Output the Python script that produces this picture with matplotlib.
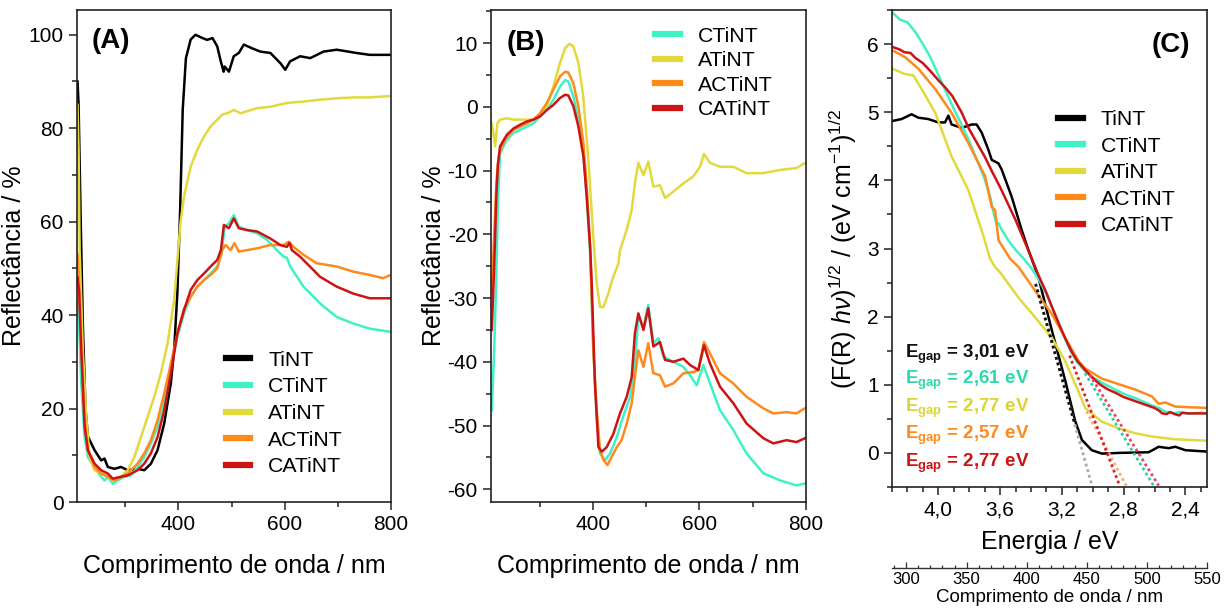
import matplotlib
matplotlib.use("Agg")
import matplotlib.pyplot as plt
import numpy as np
from matplotlib.ticker import MultipleLocator, FuncFormatter

plt.rcParams['font.family'] = 'Liberation Sans'
plt.rcParams['mathtext.fontset'] = 'custom'
plt.rcParams['mathtext.rm'] = 'Liberation Sans'
plt.rcParams['mathtext.it'] = 'Liberation Sans:italic'
plt.rcParams['mathtext.bf'] = 'Liberation Sans:bold'
plt.rcParams['axes.unicode_minus'] = False

names = ["TiNT", "CTiNT", "ATiNT", "ACTiNT", "CATiNT"]
colors = ["#000000", "#3FF2C6", "#E2DA3C", "#FF8A1C", "#CC1414"]

# ---- panel A: reflectance ----
a_tint_wl = [210, 212, 216, 220, 225, 229.5, 242, 254.5, 260.7, 267, 279.5, 292, 304.4, 323.1, 335.6, 348.1,
             360.6, 373.1, 385.6, 391.8, 398, 403, 408, 414, 423, 432, 445, 454, 464, 473, 479, 485, 487,
             495, 504, 513.5, 523, 538.5, 554, 573, 592, 601, 610, 629, 648, 673, 698, 735, 760, 800]
a_tint_r = [90, 85, 60, 38, 20, 14, 11.1, 8.9, 9.3, 7.5, 7.1, 7.5, 6.8, 7.1, 6.8, 8.2,
            11.1, 16.8, 25.4, 32.5, 45, 62, 84, 95, 99, 100, 99.3, 98.9, 99.3, 97.5, 94.6, 92.1, 93.2,
            92.1, 95.4, 96.1, 97.9, 97.1, 96.4, 96.1, 93.9, 92.5, 94.3, 95.4, 95.0, 96.4, 96.8, 96.1, 95.7, 95.7]
a_ctint_wl = [210, 212, 217, 223.3, 229.5, 242, 254.5, 260.7, 267, 276.3, 285.6, 298.2, 310.7, 323, 335.6,
              348, 360.6, 373, 385.6, 398, 410.5, 423, 435.5, 448, 460.5, 473, 481, 487, 494.8, 504.2,
              513.5, 529, 548, 566.6, 585.3, 597.8, 604, 610.3, 635.3, 666.5, 697.7, 729, 760, 800]
a_ctint_r = [43, 41, 25.4, 13.9, 9.6, 7.5, 5.4, 4.6, 5.4, 3.9, 4.6, 5.4, 5.7, 7.5, 9.6,
             12.5, 16.1, 21.8, 28.9, 35.4, 40.4, 43.9, 46.1, 47.5, 48.9, 50.4, 53, 59, 59.6, 61.4,
             58.9, 58.2, 57.5, 56.1, 53.9, 52.5, 52.3, 50.4, 46.1, 42.5, 39.6, 38.2, 37.1, 36.4]
a_atint_wl = [210, 212, 214, 220, 226.4, 232.6, 242, 254.5, 267, 279.5, 292, 304.4, 317, 329.4, 341.9,
              354.4, 366.8, 379.3, 391.8, 398, 404, 410.5, 423, 435.5, 448, 460.5, 473, 482.3, 491.7,
              504.2, 516.7, 548, 572.8, 604, 635.3, 666.5, 697.7, 729, 760, 800]
a_atint_r = [85, 75, 54, 32.5, 18.2, 9.6, 6.8, 6.1, 5.4, 4.6, 5.4, 6.8, 9.6, 13.9, 18.2,
             22.5, 27.5, 33.9, 43.2, 51.8, 60, 65.4, 71.8, 75.4, 78.2, 80.4, 81.8, 82.9, 83.2,
             83.9, 83.2, 84.3, 84.6, 85.4, 85.7, 86.1, 86.4, 86.6, 86.6, 86.9]
a_actint_wl = [210, 213, 217, 223.3, 229.5, 242, 254.5, 267, 279.5, 292, 304.4, 323, 335.6, 348, 360.6,
               373, 385.6, 398, 410.5, 423, 435.5, 448, 460.5, 473, 482.3, 488.5, 498, 505.4, 513.5,
               529, 548, 572.8, 597.8, 607.2, 616.5, 635.3, 660, 697.7, 729, 760, 785, 800]
a_actint_r = [53, 47, 33.9, 18.2, 11.1, 7.5, 6.1, 5.4, 4.6, 5.4, 6.1, 8.2, 10.4, 13.2, 17.5,
              23.2, 29.6, 36.1, 41.4, 43.9, 46.1, 47.5, 48.6, 50.0, 53.9, 55.0, 53.9, 55.4, 53.6,
              53.9, 54.3, 55.0, 55.0, 55.7, 54.6, 52.9, 51.1, 50.4, 49.3, 48.6, 47.9, 48.6]
a_catint_wl = [210, 213, 217, 223.3, 229.5, 242, 254.5, 267, 276.3, 292, 304.4, 323, 335.6, 348, 360.6,
               373, 385.6, 398, 410.5, 423, 435.5, 448, 460.5, 473, 480, 485.4, 494.8, 504.2, 513.5,
               529, 548, 572.8, 591.6, 604, 609, 613.4, 629, 666.5, 697.7, 729, 760, 800]
a_catint_r = [48, 45, 32.5, 16.1, 11.1, 8.2, 6.8, 6.1, 5.0, 5.4, 5.7, 6.8, 8.2, 10.4, 13.9,
              19.6, 27.5, 36.1, 41.1, 45.4, 47.5, 48.9, 50.4, 51.8, 54, 59.3, 58.6, 60.7, 58.6,
              58.2, 57.9, 56.4, 55.0, 54.6, 55.5, 53.9, 52.5, 48.2, 46.1, 44.6, 43.6, 43.6]

# ---- panel B: reflectance difference ----
b_ctint_wl = [210.5, 215, 218.6, 222, 226, 238.6, 251, 263.6, 276, 288.6, 301, 313.6, 326, 338.6, 348, 354,
              363.6, 373, 382.4, 388.6, 395, 401, 407.4, 413.6, 423, 432.4, 445, 457, 470, 479, 485.5, 495,
              504, 513.6, 523, 532.4, 551, 570, 582.4, 595, 607.4, 620, 638.6, 663.6, 688.6, 720, 751, 782, 798]
b_ctint_r = [-47.6, -38.2, -27.7, -15, -7.3, -5.2, -4.1, -3.6, -3.1, -2.6, -1.5, -0.5, 1.1, 3.2, 4.2, 4.0,
             1.6, -2.0, -7.3, -14.1, -23, -38.2, -48.6, -54.4, -55.4, -54.4, -51.8, -48.6, -45.5, -40.3, -32.9, -34.5,
             -31.1, -37.1, -36.3, -39.2, -40.0, -40.8, -42.1, -43.7, -40.5, -43.4, -47.6, -50.7, -54.4, -57.5, -58.6,
             -59.4, -59.1]
b_atint_wl = [210.5, 213.6, 216.7, 221, 226, 238.6, 251, 270, 288.6, 301, 313.6, 326, 338.6, 348, 356, 363.6,
              373, 382, 391.7, 401, 407.4, 413.6, 420, 429, 438.6, 448, 451, 463.6, 473, 479, 485.5, 495,
              504.2, 513.6, 526, 535.5, 551, 570, 588.6, 601, 608.6, 620, 638.6, 663.6, 688.6, 720, 751, 782, 798]
b_atint_r = [-2.6, -4.1, -6.2, -2.6, -2.0, -1.8, -2.0, -2.0, -2.0, -1.5, 0.05, 3.2, 6.9, 9.2, 9.9, 9.5,
             6.9, 1.7, -8.3, -20.5, -27.7, -31.4, -31.4, -29.3, -26.6, -24.6, -22.5, -19.3, -16.2, -12.0, -8.8, -10.7,
             -8.6, -12.5, -12.3, -14.3, -13.3, -12.0, -10.9, -9.4, -7.4, -8.8, -9.4, -9.4, -10.4, -10.4, -9.9,
             -9.6, -8.8]
b_actint_wl = [210.5, 215, 219, 222, 226, 238.6, 251, 263.6, 276, 288.6, 301, 313.6, 326, 338.6, 348, 354,
               363.6, 373, 382.4, 388.6, 395, 401, 407.4, 413.6, 420, 427.4, 435.5, 445, 454, 463.6, 473, 479,
               485.5, 495, 504, 513.6, 526, 535.5, 551, 570, 588.6, 598, 608.6, 620, 638.6, 663.6, 688.6, 720,
               738.6, 763.6, 782, 798]
b_actint_r = [-29, -20, -12, -9, -6.8, -4.7, -3.6, -3.1, -2.6, -2.0, -1.0, 0.6, 2.7, 4.8, 5.5, 5.4,
              3.7, 0.05, -5.7, -12.5, -22, -38.2, -47.6, -53.9, -55.4, -56.2, -54.9, -53.4, -52.3, -49.7, -46.5, -42.4,
              -38.2, -40.8, -37.1, -41.8, -42.1, -43.9, -43.4, -41.8, -41.6, -41.3, -36.9, -38.7, -41.8, -43.4, -45.5,
              -47.3, -48.1, -47.9, -48.1, -47.3]
b_catint_wl = [210.5, 215, 219, 222, 226, 238.6, 251, 263.6, 276, 288.6, 301, 313.6, 326, 338.6, 348, 354,
               363.6, 373, 382.4, 388.6, 395, 398, 404, 410.5, 416.8, 426, 438.6, 451, 463.6, 473, 479, 485.5,
               495, 504, 513.6, 526, 535.5, 551, 570, 582.4, 598, 608.6, 620, 638.6, 663.6, 688.6, 720, 738.6,
               763.6, 782, 798]
b_catint_r = [-35, -25, -14, -9, -6.2, -4.4, -3.4, -2.8, -2.3, -2.0, -1.5, -0.5, 0.3, 1.4, 1.9, 1.8,
              0.1, -3.1, -7.8, -14.1, -22, -27.7, -43.4, -53.4, -54.1, -53.4, -51.3, -48.1, -45.5, -42.4, -35.5, -32.4,
              -35.0, -31.6, -37.6, -36.9, -39.7, -40.0, -39.5, -40.5, -41.3, -37.4, -40.3, -43.9, -46.5, -49.7, -52.0,
              -52.8, -52.3, -52.6, -52.0]

# ---- panel C: Tauc plot ----
c_tint_e = [4.30, 4.238, 4.173, 4.13, 4.065, 4.0, 3.957, 3.935, 3.914, 3.849, 3.784, 3.752, 3.719, 3.676, 3.654,
            3.611, 3.59, 3.525, 3.46, 3.42, 3.352, 3.265, 3.179, 3.114, 3.07, 3.006, 2.941, 2.833, 2.638, 2.573,
            2.508, 2.465, 2.4, 2.26]
c_tint_f = [4.87, 4.90, 4.97, 4.92, 4.90, 4.85, 4.85, 4.95, 4.82, 4.77, 4.82, 4.82, 4.7, 4.45, 4.3,
            4.25, 4.16, 3.76, 3.27, 3.0, 2.58, 1.8, 1.07, 0.47, 0.19, 0.04, -0.01, 0.0, 0.01, 0.09,
            0.07, 0.09, 0.04, 0.02]
c_ctint_e = [4.30, 4.25, 4.20, 4.15, 4.10, 4.05, 4.00, 3.95, 3.90, 3.85, 3.80, 3.75, 3.70, 3.66, 3.64, 3.625,
             3.61, 3.59, 3.55, 3.50, 3.45, 3.40, 3.35, 3.30, 3.26, 3.22, 3.18, 3.14, 3.10, 3.05, 3.00, 2.94,
             2.88, 2.83, 2.78, 2.72, 2.66, 2.62, 2.57, 2.55, 2.52, 2.50, 2.47, 2.44, 2.40, 2.35, 2.30, 2.26]
c_ctint_f = [6.47, 6.36, 6.32, 6.18, 6.0, 5.8, 5.55, 5.3, 5.05, 4.82, 4.57, 4.3, 4.02, 3.72, 3.5, 3.38,
             3.37, 3.28, 3.13, 2.98, 2.86, 2.72, 2.55, 2.33, 2.12, 1.9, 1.68, 1.48, 1.33, 1.2, 1.11, 1.03,
             0.96, 0.9, 0.85, 0.8, 0.74, 0.7, 0.66, 0.63, 0.6, 0.6, 0.58, 0.6, 0.58, 0.58, 0.59, 0.58]
c_atint_e = [4.30, 4.216, 4.162, 4.108, 4.02, 3.914, 3.806, 3.71, 3.665, 3.633, 3.60, 3.481, 3.373, 3.265, 3.179,
             3.092, 3.049, 2.941, 2.833, 2.725, 2.617, 2.465, 2.26]
c_atint_f = [5.64, 5.56, 5.54, 5.34, 4.99, 4.35, 3.86, 3.2, 2.85, 2.73, 2.65, 2.28, 1.99, 1.69, 1.35,
             0.90, 0.66, 0.46, 0.36, 0.29, 0.24, 0.2, 0.18]
c_actint_e = [4.30, 4.216, 4.13, 4.02, 3.914, 3.806, 3.697, 3.654, 3.633, 3.61, 3.535, 3.481, 3.373, 3.265, 3.179,
              3.092, 3.049, 2.941, 2.833, 2.725, 2.617, 2.573, 2.53, 2.465, 2.26]
c_actint_f = [5.91, 5.81, 5.64, 5.34, 4.99, 4.55, 4.06, 3.61, 3.565, 3.12, 2.85, 2.73, 2.38, 2.04, 1.69,
              1.35, 1.24, 1.09, 1.01, 0.93, 0.83, 0.72, 0.74, 0.68, 0.66]
c_catint_e = [4.30, 4.25, 4.22, 4.18, 4.15, 4.10, 4.05, 4.00, 3.95, 3.91, 3.85, 3.80, 3.75, 3.70, 3.65, 3.60,
              3.55, 3.50, 3.45, 3.40, 3.35, 3.30, 3.26, 3.22, 3.18, 3.14, 3.10, 3.05, 3.00, 2.95, 2.90, 2.85,
              2.80, 2.75, 2.70, 2.65, 2.60, 2.57, 2.55, 2.52, 2.50, 2.47, 2.44, 2.42, 2.38, 2.30, 2.26]
c_catint_f = [5.96, 5.92, 5.88, 5.87, 5.8, 5.72, 5.6, 5.47, 5.35, 5.24, 5.0, 4.75, 4.55, 4.35, 4.12, 3.9,
              3.66, 3.42, 3.15, 2.88, 2.6, 2.35, 2.12, 1.9, 1.69, 1.5, 1.35, 1.22, 1.1, 1.0, 0.93, 0.88,
              0.82, 0.78, 0.74, 0.7, 0.66, 0.62, 0.58, 0.57, 0.6, 0.57, 0.55, 0.59, 0.58, 0.58, 0.58]

# linear extrapolations (start and end points, energy / value)
fit_e0 = [3.37, 3.05, 3.04, 3.02, 3.15]
fit_f0 = [2.48, 1.17, 0.61, 1.15, 1.43]
fit_e1 = [3.005, 2.606, 2.783, 2.573, 2.826]
fit_f1 = [-0.48, -0.48, -0.48, -0.48, -0.48]
fit_colors = ["#A8A8A8", "#2FCFA2", "#F4AE70", "#E8455E", "#E3202A"]
tint_fit_black_until = 0.42

egap_labels = ["3,01", "2,61", "2,77", "2,57", "2,77"]
egap_colors = ["#111111", "#2ED8AA", "#D9D43A", "#FF8A1C", "#CC1414"]
egap_y = [1.40, 1.01, 0.60, 0.21, -0.21]

wl_axis_min, wl_axis_max = 288, 550

W, H = 1231, 614
fig = plt.figure(figsize=(W / 100, H / 100), dpi=100)
ax_a = fig.add_axes([77 / W, 1 - 502 / H, 314 / W, 492 / H])
ax_b = fig.add_axes([491 / W, 1 - 502 / H, 315 / W, 492 / H])
ax_c = fig.add_axes([892 / W, 1 - 487 / H, 315 / W, 477 / H])
ax_w = fig.add_axes([892 / W, 1 - 568 / H, 315 / W, 0.0001])


def style(ax):
    for s in ax.spines.values():
        s.set_linewidth(1.2)
        s.set_color("#222222")
    ax.tick_params(which='both', direction='out', width=1.1, labelsize=15, color="#222222")
    ax.tick_params(which='major', length=6)
    ax.tick_params(which='minor', length=3.5)


def thick_legend(ax, anchor, spacing):
    leg = ax.legend(loc='center left', bbox_to_anchor=anchor, frameon=False, fontsize=15.3,
                    handlelength=1.15, handletextpad=0.85, labelspacing=spacing,
                    borderpad=0, borderaxespad=0)
    for h in leg.legend_handles:
        h.set_linewidth(4.5)


lw = 1.8

# panel A
a_series = [(a_tint_wl, a_tint_r), (a_ctint_wl, a_ctint_r), (a_atint_wl, a_atint_r),
            (a_actint_wl, a_actint_r), (a_catint_wl, a_catint_r)]
for (x, y), c, n in zip(a_series, colors, names):
    ax_a.plot(x, y, color=c, lw=lw, label=n)
ax_a.set_xlim(209, 800)
ax_a.set_ylim(0, 105.3)
ax_a.xaxis.set_major_locator(MultipleLocator(200))
ax_a.xaxis.set_minor_locator(MultipleLocator(100))
ax_a.yaxis.set_major_locator(MultipleLocator(20))
ax_a.yaxis.set_minor_locator(MultipleLocator(10))
style(ax_a)
ax_a.set_xlabel("Comprimento de onda / nm", fontsize=18, labelpad=14)
ax_a.set_ylabel("Reflectância / %", fontsize=18, labelpad=2)
ax_a.text(0.047, 0.936, "(A)", transform=ax_a.transAxes, fontsize=20, fontweight='bold', va='center')
thick_legend(ax_a, (0.474, 0.18), 0.36)

# panel B
b_series = [(b_ctint_wl, b_ctint_r), (b_atint_wl, b_atint_r), (b_actint_wl, b_actint_r),
            (b_catint_wl, b_catint_r)]
for (x, y), c, n in zip(b_series, colors[1:], names[1:]):
    ax_b.plot(x, y, color=c, lw=lw, label=n)
ax_b.set_xlim(209, 800)
ax_b.set_ylim(-62, 15.2)
ax_b.xaxis.set_major_locator(MultipleLocator(200))
ax_b.xaxis.set_minor_locator(MultipleLocator(100))
ax_b.yaxis.set_major_locator(MultipleLocator(10))
ax_b.yaxis.set_minor_locator(MultipleLocator(5))
style(ax_b)
ax_b.set_xlabel("Comprimento de onda / nm", fontsize=18, labelpad=14)
ax_b.set_ylabel("Reflectância / %", fontsize=18, labelpad=1)
ax_b.text(0.05, 0.932, "(B)", transform=ax_b.transAxes, fontsize=20, fontweight='bold', va='center')
thick_legend(ax_b, (0.521, 0.872), 0.26)

# panel C
c_series = [(c_tint_e, c_tint_f), (c_ctint_e, c_ctint_f), (c_atint_e, c_atint_f),
            (c_actint_e, c_actint_f), (c_catint_e, c_catint_f)]
for (x, y), c, n in zip(c_series, colors, names):
    ax_c.plot(x, y, color=c, lw=lw, label=n)

for i in range(5):
    ax_c.plot([fit_e0[i], fit_e1[i]], [fit_f0[i], fit_f1[i]], color=fit_colors[i], lw=2,
              ls=(0, (1, 1.1)))
# upper part of the TiNT fit drawn in black
split_e = np.interp(tint_fit_black_until, [fit_f1[0], fit_f0[0]], [fit_e1[0], fit_e0[0]])
ax_c.plot([fit_e0[0], split_e], [fit_f0[0], tint_fit_black_until], color="#111111", lw=2, ls=(0, (1, 1.1)))

ax_c.set_xlim(4.30, 2.26)
ax_c.set_ylim(-0.5, 6.5)
ax_c.xaxis.set_major_locator(MultipleLocator(0.4))
ax_c.xaxis.set_minor_locator(MultipleLocator(0.1))
ax_c.xaxis.set_major_formatter(FuncFormatter(lambda v, p: f"{v:.1f}".replace(".", ",")))
ax_c.yaxis.set_major_locator(MultipleLocator(1))
ax_c.yaxis.set_minor_locator(MultipleLocator(0.5))
style(ax_c)
ax_c.set_xlabel("Energia / eV", fontsize=18, labelpad=8)
ax_c.set_ylabel(r"(F(R) $h\nu$)$^{1/2}$ / (eV cm$^{-1}$)$^{1/2}$", fontsize=18, labelpad=6)
ax_c.text(0.946, 0.927, "(C)", transform=ax_c.transAxes, fontsize=20, fontweight='bold',
          va='center', ha='right')
thick_legend(ax_c, (0.528, 0.659), 0.35)

for lab, col, yy in zip(egap_labels, egap_colors, egap_y):
    ax_c.text(4.215, yy, r"$\mathbf{E_{gap}}$ = " + lab + " eV", color=col, fontsize=13.5,
              fontweight='bold', va='baseline', ha='left')

# wavelength scale under panel C
ax_w.set_xlim(wl_axis_min, wl_axis_max)
ax_w.set_yticks([])
for s in ['left', 'right', 'top']:
    ax_w.spines[s].set_visible(False)
ax_w.spines['bottom'].set_linewidth(1.0)
ax_w.spines['bottom'].set_color("#333333")
ax_w.xaxis.set_major_locator(MultipleLocator(50))
ax_w.xaxis.set_minor_locator(MultipleLocator(10))
ax_w.tick_params(which='both', direction='in', width=0.9, labelsize=12, color="#333333", pad=3)
ax_w.tick_params(which='major', length=4)
ax_w.tick_params(which='minor', length=2.5)
ax_w.set_facecolor('none')
ax_w.set_xlabel("Comprimento de onda / nm", fontsize=13.5, labelpad=1)

fig.savefig("out.png", dpi=100)
